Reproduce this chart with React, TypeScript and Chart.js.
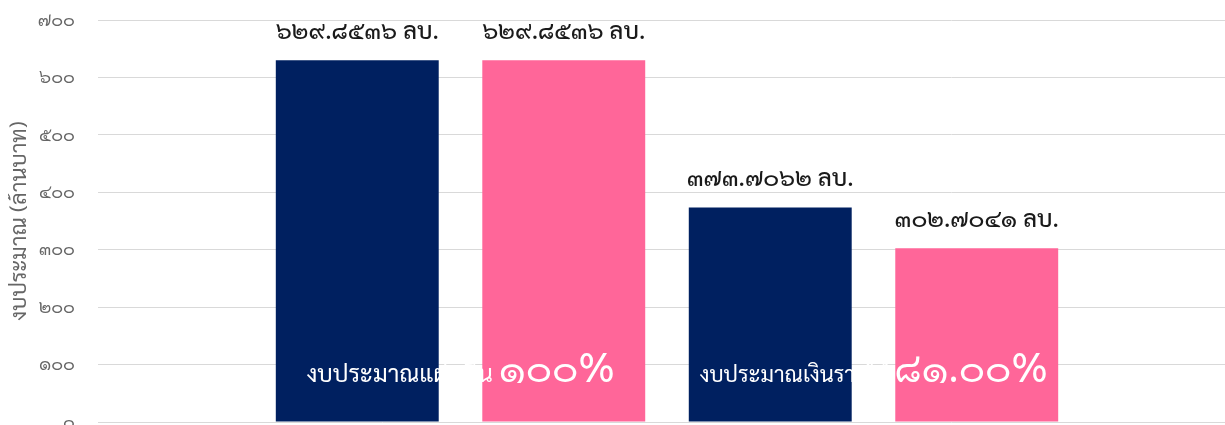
import React, { useEffect, useRef } from 'react';
import { Chart, registerables } from 'chart.js';

Chart.register(...registerables);

// ---- data ----
const categories = ['งบประมาณแผ่นดิน', 'งบประมาณเงินรายได้'];
const allocated = [629.8536, 373.7062];
const disbursed = [629.8536, 302.7041];
const percentLabels = ['100%', '81.00%'];
const yTickValues = [0, 100, 200, 300, 400, 500, 600, 700];
const unitLabel = 'ลบ.';
const yAxisTitle = 'งบประมาณ (ล้านบาท)';

const NAVY = '#002060';
const PINK = '#FF6699';
const FONT = "'Sarabun', 'Noto Sans Thai Looped', sans-serif";
const CATEGORY_TEXT_SIZES = [24, 22];

const thai = (s: string) => s.replace(/[0-9]/g, (d) => '๐๑๒๓๔๕๖๗๘๙'[Number(d)]);

const labelPlugin = {
  id: 'thaiLabels',
  afterDatasetsDraw(chart: any) {
    const ctx = chart.ctx as CanvasRenderingContext2D;
    ctx.save();
    ctx.textBaseline = 'alphabetic';
    // value labels above bars
    chart.data.datasets.forEach((ds: any, di: number) => {
      const bar = chart.getDatasetMeta(di).data[0];
      if (!bar) return;
      const txt = thai(Number(ds.data[0]).toFixed(4)) + ' ' + unitLabel;
      ctx.font = `500 24px ${FONT}`;
      ctx.fillStyle = '#1a1a1a';
      ctx.textAlign = 'center';
      ctx.fillText(txt, bar.x, bar.y - 21);
    });
    // category text inside bars
    categories.forEach((cat, ci) => {
      const a = chart.getDatasetMeta(ci * 2).data[0];
      const b = chart.getDatasetMeta(ci * 2 + 1).data[0];
      const cx = (a.x + b.x) / 2;
      const y = chart.chartArea.bottom - 40;
      const smallFont = `${CATEGORY_TEXT_SIZES[ci]}px ${FONT}`;
      const bigFont = `40px ${FONT}`;
      const smallTxt = cat + ' ';
      const bigTxt = thai(percentLabels[ci]);
      ctx.font = smallFont;
      const w1 = ctx.measureText(smallTxt).width;
      ctx.font = bigFont;
      const w2 = ctx.measureText(bigTxt).width;
      const x0 = cx - (w1 + w2) / 2;
      ctx.textAlign = 'left';
      ctx.fillStyle = '#ffffff';
      ctx.font = smallFont;
      ctx.fillText(smallTxt, x0, y);
      ctx.font = bigFont;
      ctx.fillText(bigTxt, x0 + w1, y);
    });
    ctx.restore();
  },
};

export default function App() {
  const ref = useRef<HTMLCanvasElement>(null);

  useEffect(() => {
    if (!ref.current) return;
    const datasets: any[] = [];
    categories.forEach((cat, i) => {
      datasets.push({ label: cat + ' (จัดสรร)', data: [allocated[i]], backgroundColor: NAVY });
      datasets.push({ label: cat + ' (เบิกจ่าย)', data: [disbursed[i]], backgroundColor: PINK });
    });
    const chart = new Chart(ref.current, {
      type: 'bar',
      data: { labels: [''], datasets },
      plugins: [labelPlugin],
      options: {
        responsive: false,
        animation: false,
        layout: { padding: { top: 11, bottom: 14, left: 0, right: 8 } },
        datasets: { bar: { categoryPercentage: 0.7258, barPercentage: 0.789 } },
        plugins: { legend: { display: false }, tooltip: { enabled: false } },
        scales: {
          x: { display: false },
          y: {
            min: 0,
            max: 700,
            afterBuildTicks: (scale: any) => {
              scale.ticks = yTickValues.map((v) => ({ value: v }));
            },
            afterFit: (scale: any) => {
              scale.width = 90;
            },
            ticks: {
              color: '#666666',
              font: { family: FONT, size: 18, lineHeight: 1 },
              padding: 3,
              callback: (v: any) => thai(String(v)),
            },
            grid: {
              color: '#d9d9d9',
              drawTicks: true,
              tickLength: 20,
              tickColor: 'rgba(0,0,0,0)',
              lineWidth: 1,
            },
            border: { display: false },
            title: {
              display: true,
              text: yAxisTitle,
              color: '#666666',
              font: { family: FONT, size: 22, lineHeight: 1 },
              padding: { top: 0, bottom: 0 },
            },
          },
        },
      } as any,
    });
    return () => chart.destroy();
  }, []);

  return (
    <div style={{ position: 'fixed', left: 8, top: 8, width: 1217, height: 417, overflow: 'hidden' }}>
      <canvas ref={ref} width={1236} height={428} style={{ width: 1236, height: 428, display: 'block' }} />
    </div>
  );
}
